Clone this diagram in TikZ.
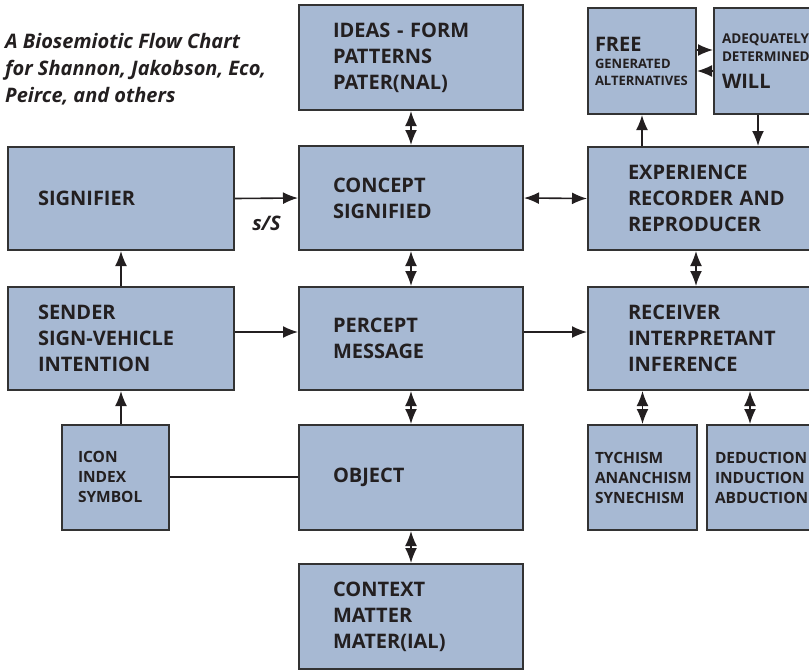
\documentclass[tikz,border=0pt]{standalone}
\usepackage{fontspec}
\setmainfont{Open Sans}
\usetikzlibrary{arrows.meta}

\definecolor{boxfill}{HTML}{A7B9D3}
\definecolor{boxline}{HTML}{333333}
\definecolor{inkdark}{HTML}{231F20}

\tikzset{
  box/.style={draw=boxline, line width=2pt, fill=boxfill, text=inkdark,
    align=left, inner ysep=0pt,
    execute at begin node={\hyphenpenalty=10000 \exhyphenpenalty=10000},
    font=\bfseries\fontsize{20}{26}\selectfont},
  leftcol/.style={box, text width=166pt, inner xsep=30pt, minimum height=103pt},
  midcol/.style={box, text width=156pt, inner xsep=34pt, minimum height=104pt},
  rightcol/.style={box, text width=162pt, inner xsep=40pt, minimum height=103pt},
  smallbox/.style={box, font=\bfseries\fontsize{15.5}{20}\selectfont, minimum height=105pt},
  link/.style={draw=inkdark, line width=1.6pt},
}
\newcommand{\bigword}{\fontsize{20}{22}\selectfont}

\begin{document}
\begin{tikzpicture}[x=1pt, y=-1pt, >={Latex[length=15pt,width=12pt]}]
   \useasboundingbox (0,0) rectangle (809,672);
   \clip (0,0) rectangle (809,672);

   % Title
   \node [anchor=north west, inner sep=0pt, align=left, text=inkdark,
     font=\bfseries\itshape\fontsize{20}{27}\selectfont] (title) at (5,33)
     {A Biosemiotic Flow Chart\\for Shannon, Jakobson, Eco,\\Peirce, and others};

   % Boxes
   \node [midcol, minimum height=105pt] (ideas) at (411,57.5) {IDEAS - FORM\\PATTERNS\\PATER(NAL)};
   \node [box, text width=94pt, inner xsep=7pt, minimum height=106pt,
     font=\bfseries\fontsize{13}{17}\selectfont] (free) at (642,61)
     {{\bigword FREE}\\GENERATED\\ALTERNATIVES};
   \node [box, text width=104pt, inner xsep=8pt, minimum height=106pt,
     font=\bfseries\fontsize{13.5}{18}\selectfont] (will) at (774,61)
     {ADEQUATELY\\DETERMINED\\[9pt]{\bigword WILL}};

   \node [leftcol] (signifier) at (121,198.5) {SIGNIFIER};
   \node [midcol] (concept) at (411,198) {CONCEPT\\SIGNIFIED};
   \node [rightcol] (experience) at (709,198.5) {EXPERIENCE\\RECORDER AND\\REPRODUCER};

   \node [leftcol] (sender) at (121,338.5) {SENDER\\SIGN-VEHICLE\\INTENTION};
   \node [midcol, minimum height=103pt] (percept) at (411,338.5) {PERCEPT\\MESSAGE};
   \node [rightcol] (receiver) at (709,338.5) {RECEIVER\\INTERPRETANT\\INFERENCE};

   \node [smallbox, text width=75pt, inner xsep=16pt] (icon) at (115.5,477) {ICON\\INDEX\\SYMBOL};
   \node [midcol, minimum height=105pt] (object) at (411,477.5) {OBJECT};
   \node [smallbox, text width=95pt, inner xsep=7pt] (tychism) at (642.5,477.5) {TYCHISM\\ANANCHISM\\SYNECHISM};
   \node [smallbox, text width=104pt, inner xsep=8pt] (deduction) at (767,477.5) {DEDUCTION\\INDUCTION\\ABDUCTION};

   \node [midcol, minimum height=105pt] (context) at (411,616.5) {CONTEXT\\MATTER\\MATER(IAL)};

   % Connectors
   \draw [link, ->] (signifier.east) -- (concept.west)
     node [midway, below=14pt, text=inkdark, font=\bfseries\itshape\fontsize{20}{24}\selectfont] (slash) {s/S};
   \draw [link, <->] (concept.east) -- (experience.west);
   \draw [link, ->] ([yshift=6.5pt]sender.east) -- ([yshift=6.5pt]percept.west);
   \draw [link, ->] ([yshift=6.5pt]percept.east) -- ([yshift=6.5pt]receiver.west);
   \draw [link, ->] (sender.north) -- (signifier.south);
   \draw [link, ->] (icon.north -| sender.south) -- (sender.south);
   \draw [link] (icon.east) -- (icon.east -| object.west);

   \draw [link, <->] (ideas.south) -- (concept.north);
   \draw [link, <->] (concept.south) -- (percept.north);
   \draw [link, <->] (percept.south) -- (object.north);
   \draw [link, <->] (object.south) -- (context.north);

   \draw [link, ->] ([yshift=11pt]free.east) -- ([yshift=11pt]free.east -| will.west);
   \draw [link, ->] ([yshift=-10pt]free.east -| will.west) -- ([yshift=-10pt]free.east);
   \draw [link, ->] (experience.north -| free.south) -- (free.south);
   \draw [link, ->] ([xshift=45pt]will.south west) -- ([xshift=45pt]will.south west |- experience.north);
   \draw [link, <->] ([xshift=109pt]experience.south west) -- ([xshift=109pt]experience.south west |- receiver.north);
   \draw [link, <->] (receiver.south -| tychism.north) -- (tychism.north);
   \draw [link, <->] ([xshift=44pt]receiver.south -| deduction.north west) -- ([xshift=44pt]deduction.north west);
\end{tikzpicture}
\end{document}
